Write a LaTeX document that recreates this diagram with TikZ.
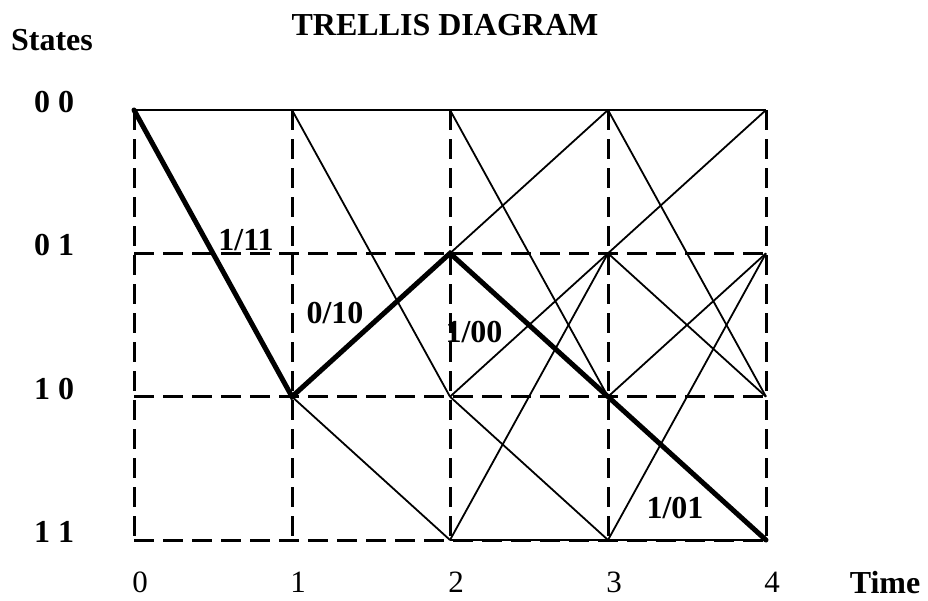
\documentclass[tikz,border=0pt]{standalone}
\usepackage{fontspec}
\setmainfont{Liberation Serif}
\usetikzlibrary{positioning}

\begin{document}
\begin{tikzpicture}[x=1pt, y=-1pt,
    every node/.style={font=\fontsize{32}{32}\selectfont\bfseries, inner sep=0pt},
    plain/.style={font=\fontsize{31}{31}\selectfont},
    grid/.style  ={line width=3pt, dash pattern=on 20pt off 9pt},
    branch/.style={line width=1.8pt},
    survivor/.style={line width=5pt, line cap=round}
]
\useasboundingbox (0,0) rectangle (928,600);

% trellis points: state s, time t
\foreach \t in {0,...,4} {
  \coordinate (s00t\t) at ({134+158*\t},110);
  \coordinate (s01t\t) at ({134+158*\t},253.3);
  \coordinate (s10t\t) at ({134+158*\t},396.7);
  \coordinate (s11t\t) at ({134+158*\t},540);
}

% dashed grid
\foreach \t in {0,...,4}
  \draw[grid] (s00t\t) -- (s11t\t);
\draw[grid] (s01t0) -- (s01t4);
\draw[grid] (s10t0) -- (s10t4);
\draw[grid] (s11t0) -- (s11t4);

% branches
\draw[branch] (s00t0) -- (s00t4);
\draw[branch] (s11t2) -- (s11t4);
\draw[branch] (s00t1) -- (s10t2);
\draw[branch] (s10t1) -- (s11t2);
\foreach \t/\u in {2/3, 3/4} {
  \draw[branch] (s00t\t) -- (s10t\u);
  \draw[branch] (s01t\t) -- (s00t\u);
  \draw[branch] (s01t\t) -- (s10t\u);
  \draw[branch] (s10t\t) -- (s01t\u);
  \draw[branch] (s10t\t) -- (s11t\u);
  \draw[branch] (s11t\t) -- (s01t\u);
}

% survivor path
\draw[survivor] (s00t0) -- (s10t1) -- (s01t2) -- (s10t3) -- (s11t4);

% branch labels
\node (l1) at (246,240) {1/11};
\node (l2) at (335,313) {0/10};
\node (l3) at (474,332) {1/00};
\node (l4) at (675,508) {1/01};

% titles and axes
\node (title)  at (445,25) {TRELLIS DIAGRAM};
\node (states) at (52,40)  {States};
\node (st00) at (54,102)   {0 0};
\node (st01) at (54,245.3) {0 1};
\node (st10) at (54,388.7) {1 0};
\node (st11) at (54,532)   {1 1};
\foreach \t in {0,...,4}
  \node[plain] (time\t) at ({140+158*\t},582) {\t};
\node (time) at (885,583) {Time};
\end{tikzpicture}
\end{document}
